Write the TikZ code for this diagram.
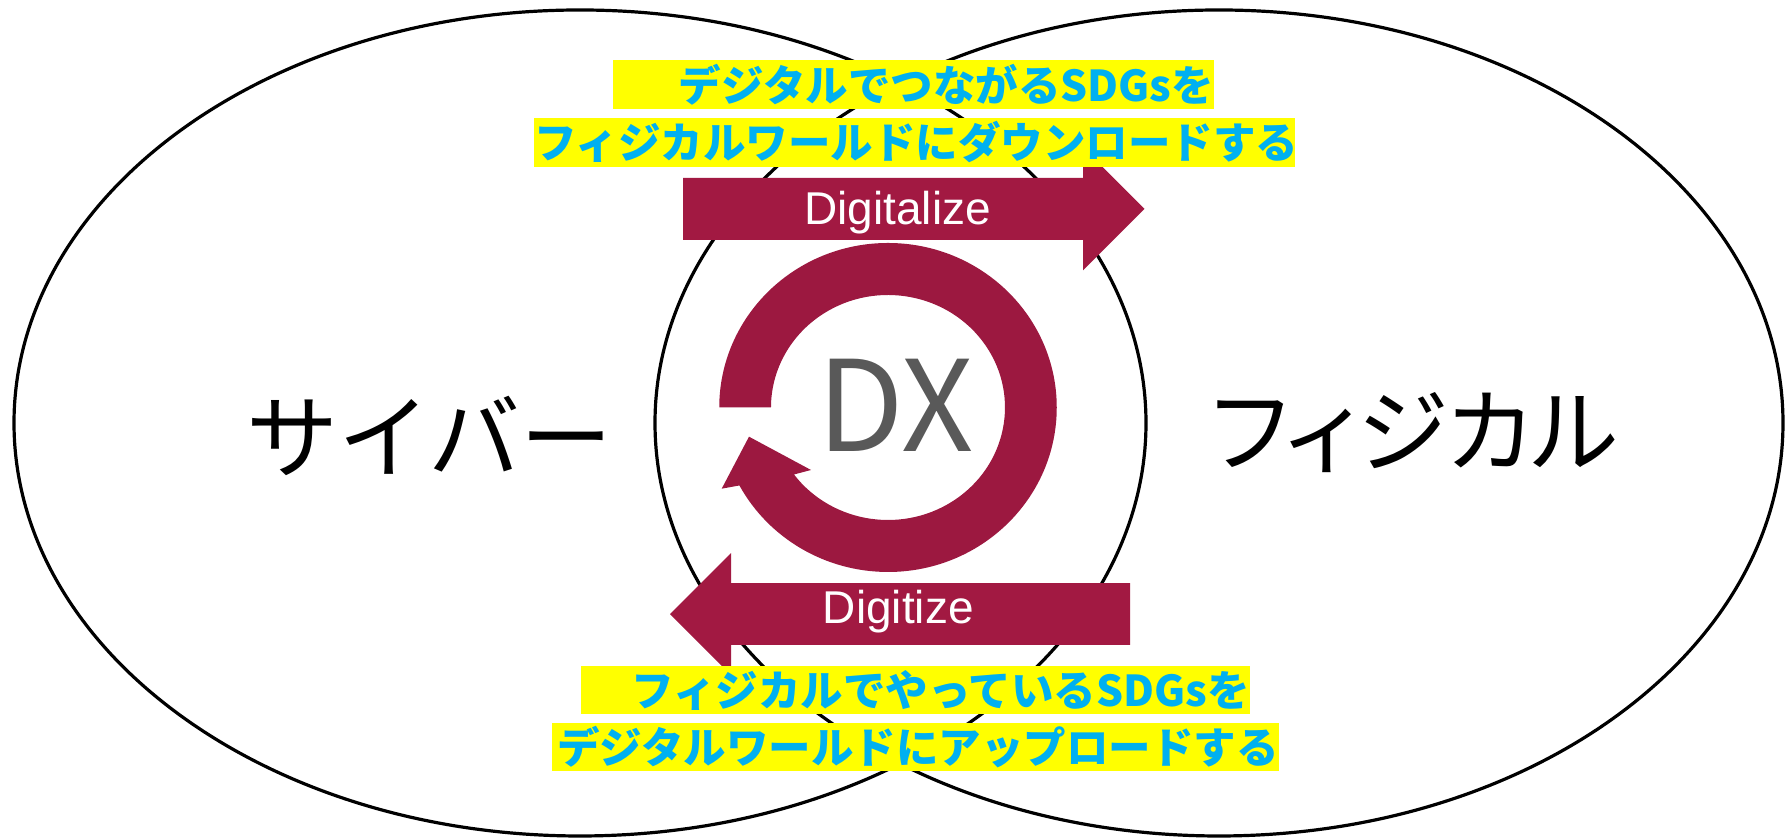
\documentclass[tikz,border=0pt]{standalone}
\usepackage{fontspec}
\newfontfamily\jpfont{Noto Sans CJK JP}
\newfontfamily\jppfont{Noto Sans CJK JP}[RawFeature=+palt]
\newfontfamily\arialfont{Liberation Sans}
\usetikzlibrary{calc}

\definecolor{arrowred}{RGB}{162,25,66}
\definecolor{ringred}{RGB}{156,24,64}
\definecolor{dxgrey}{RGB}{89,89,89}
\definecolor{sdgblue}{RGB}{0,176,240}
\definecolor{sdgyellow}{RGB}{255,255,0}

\tikzset{
	world/.style={line width=1.6pt, draw=black},
	worldtext/.style={font=\jpfont\fontsize{46}{50}\selectfont, text=black, inner sep=0pt},
	ybox/.style={fill=sdgyellow, text=sdgblue, inner sep=0pt, minimum height=24.25pt, align=right,
		font=\jpfont\bfseries\fontsize{21.25}{24}\selectfont},
	arrowtext/.style={font=\arialfont\fontsize{23}{26}\selectfont, text=white, inner sep=0pt},
}

\begin{document}
\begin{tikzpicture}[x=0.5pt, y=0.5pt]
		%%%%% START %%%%%
		\useasboundingbox (0, 0) rectangle (1785, 838);
		
		% two worlds
		\draw[world] (580, 415) ellipse [x radius=566, y radius=413];
		\draw[world] (1219, 415) ellipse [x radius=564, y radius=413];
		
		\node[worldtext] (cyber) at (429.5, 402) {サイバー};
		\node[worldtext, font=\jppfont\fontsize{46}{50}\selectfont] (physical) at (1414.5, 405) {フィジカル};
		
		% Digitalize / Digitize
		\fill[arrowred] (683, 598) -- (1083, 598) -- (1083, 567.5) -- (1144.5, 629)
			-- (1083, 690.5) -- (1083, 660) -- (683, 660) -- cycle;
		\node[arrowtext, anchor=base] (dgz) at (897.6, 613) {Digitalize};
		
		\fill[arrowred] (1130, 193) -- (731, 193) -- (731, 162.8) -- (670, 223.8)
			-- (731, 284.8) -- (731, 254.8) -- (1130, 254.8) -- cycle;
		\node[arrowtext, anchor=base] (dgt) at (898.3, 214.7) {Digitize};
		
		% DX cycle
		\coordinate (ringc) at (888, 430.5);
		\fill[ringred] ($(ringc)+(-168.75, 0)$) arc[start angle=180, end angle=-151.7, x radius=168.75, y radius=164.5]
			-- (721.7, 349.3) -- (749, 401.3) -- (811, 368) -- (794, 363.5)
			arc[start angle=-143.45, end angle=180, x radius=117, y radius=112.5] -- cycle;
		\node[font=\jpfont\fontsize{63}{70}\selectfont, text=dxgrey, inner sep=0pt, anchor=base] (dx) at (895.4, 386.3) {DX};
		
		% SDGs captions
		\node[ybox, text width=300.5pt] (up1) at (913.5, 753.5) {　デジタルでつながるSDGsを};
		\node[ybox, text width=380.25pt] (up2) at (914.25, 695.5) {フィジカルワールドにダウンロードする};
		\node[ybox, text width=334.3pt] (low1) at (915.3, 148) {　フィジカルでやっているSDGsを};
		\node[ybox, text width=363.5pt] (low2) at (915.15, 91.15) {デジタルワールドにアップロードする};
		
		%%%%% END %%%%%
	\end{tikzpicture}
\end{document}
